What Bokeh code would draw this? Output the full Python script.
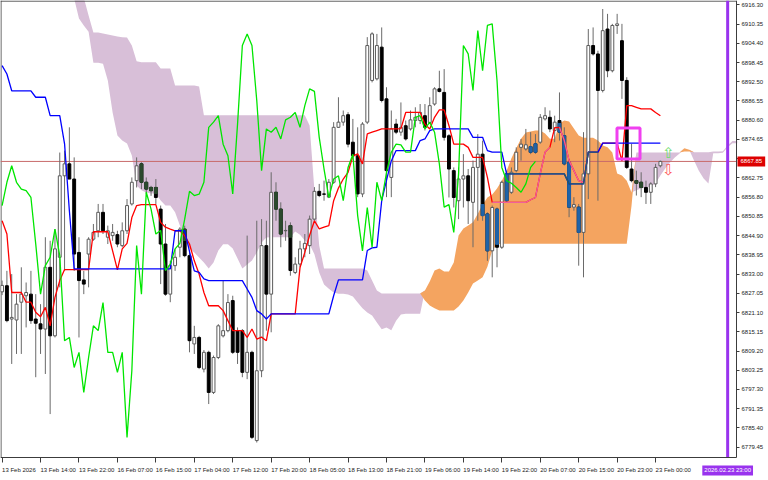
import numpy as np
from bokeh.plotting import figure
from bokeh.models import Range1d, FixedTicker, NumeralTickFormatter, Label
from bokeh.embed import file_html
from bokeh.resources import INLINE
from bokeh.core.properties import value

# ---------------- data (H1 bars, index 0 = first bar on screen) ----------------
OPEN = [6827.5, 6829.4, 6819.1, 6818.8, 6824.3, 6826.3, 6826.8, 6819.1, 6817.6, 6816.0,
        6835.1, 6813.9, 6838.2, 6863.4, 6867.1, 6862.4, 6839.7, 6831.2, 6839.2, 6843.8,
        6846.4, 6852.1, 6844.4, 6844.9, 6845.2, 6841.8, 6846.4, 6854.7, 6861.9, 6867.1,
        6861.4, 6859.8, 6859.8, 6853.1, 6842.3, 6826.8, 6835.6, 6841.3, 6846.9, 6838.7,
        6811.4, 6813.4, 6803.6, 6808.8, 6796.4, 6807.2, 6813.9, 6815.5, 6824.8, 6815.5,
        6815.5, 6802.6, 6808.8, 6781.5, 6803.1, 6841.8, 6826.8, 6858.3, 6853.1, 6846.4,
        6848.0, 6833.5, 6836.1, 6840.8, 6841.8, 6850.0, 6858.6, 6857.8, 6856.8, 6861.4,
        6878.4, 6880.0, 6882.3, 6873.8, 6869.6, 6857.8, 6880.0, 6892.9, 6893.4, 6903.2,
        6887.2, 6862.9, 6879.4, 6876.9, 6878.9, 6877.9, 6880.5, 6880.5, 6882.0, 6879.9,
        6885.6, 6890.3, 6889.2, 6875.8, 6865.0, 6855.7, 6862.4, 6863.4, 6855.2, 6866.0,
        6870.1, 6851.6, 6840.2, 6853.1, 6841.3, 6864.0, 6858.3, 6865.0, 6872.2, 6871.7,
        6872.4, 6873.3, 6873.8, 6881.0, 6881.5, 6877.4, 6880.5, 6875.8, 6867.6, 6853.7,
        6853.7, 6845.9, 6864.0, 6903.7, 6901.1, 6889.8, 6908.8, 6895.9, 6909.9, 6905.2,
        6892.9, 6865.5, 6861.9, 6861.4, 6859.8, 6858.3, 6860.9, 6866.5]
HIGH = [6831.0, 6834.0, 6833.0, 6826.8, 6835.1, 6830.4, 6834.0, 6826.8, 6823.7, 6844.4,
        6843.3, 6846.9, 6870.6, 6871.2, 6878.4, 6869.1, 6844.4, 6834.0, 6844.4, 6848.5,
        6854.7, 6854.7, 6848.0, 6848.5, 6846.4, 6849.0, 6856.2, 6862.9, 6869.1, 6867.6,
        6862.9, 6860.3, 6862.4, 6854.2, 6848.5, 6837.1, 6840.7, 6847.5, 6848.0, 6840.2,
        6817.0, 6813.9, 6809.5, 6809.3, 6807.8, 6817.5, 6830.9, 6826.8, 6826.3, 6816.5,
        6816.0, 6844.9, 6809.3, 6849.5, 6850.0, 6849.5, 6864.5, 6861.4, 6855.2, 6849.5,
        6849.0, 6838.2, 6843.3, 6845.4, 6851.1, 6859.9, 6860.9, 6861.9, 6862.4, 6880.0,
        6887.7, 6883.6, 6883.1, 6881.0, 6878.4, 6880.0, 6906.3, 6907.8, 6907.3, 6909.3,
        6890.8, 6883.6, 6881.0, 6886.1, 6880.5, 6883.6, 6884.6, 6885.6, 6885.6, 6887.7,
        6890.8, 6895.9, 6896.4, 6876.3, 6866.0, 6866.0, 6870.1, 6865.5, 6868.1, 6876.3,
        6874.3, 6852.1, 6854.2, 6853.6, 6861.9, 6865.0, 6866.0, 6872.2, 6874.8, 6877.9,
        6876.9, 6876.3, 6882.5, 6884.6, 6883.6, 6882.0, 6889.2, 6878.4, 6868.6, 6856.8,
        6854.7, 6876.9, 6908.8, 6909.3, 6902.1, 6915.0, 6913.5, 6910.4, 6913.5, 6910.4,
        6893.9, 6873.3, 6865.0, 6864.5, 6861.9, 6861.4, 6867.1, 6868.1]
LOW = [6826.5, 6818.1, 6805.2, 6808.3, 6808.3, 6816.5, 6817.6, 6801.1, 6808.3, 6802.1,
       6789.7, 6813.4, 6828.9, 6834.0, 6862.4, 6834.0, 6813.4, 6826.8, 6828.9, 6843.3,
       6844.4, 6845.4, 6842.3, 6843.3, 6841.3, 6841.3, 6845.4, 6854.2, 6859.8, 6859.3,
       6857.8, 6857.2, 6854.7, 6829.9, 6826.3, 6824.3, 6834.0, 6838.2, 6838.2, 6808.8,
       6808.3, 6803.6, 6802.6, 6792.8, 6795.9, 6806.7, 6813.4, 6815.0, 6808.3, 6805.2,
       6801.1, 6800.5, 6782.0, 6780.9, 6801.1, 6815.5, 6815.0, 6849.5, 6841.3, 6843.3,
       6832.5, 6833.0, 6835.1, 6838.2, 6839.2, 6849.5, 6856.8, 6855.7, 6856.5, 6860.9,
       6878.2, 6878.9, 6872.2, 6869.1, 6856.8, 6856.8, 6879.4, 6892.3, 6892.9, 6886.1,
       6856.8, 6856.8, 6876.3, 6875.8, 6874.3, 6877.4, 6878.4, 6879.4, 6877.4, 6879.4,
       6885.1, 6889.2, 6874.3, 6856.7, 6853.6, 6850.0, 6853.6, 6848.5, 6841.3, 6849.5,
       6849.5, 6837.1, 6832.0, 6835.1, 6840.8, 6855.2, 6857.8, 6864.5, 6868.1, 6871.2,
       6870.1, 6870.2, 6873.3, 6880.5, 6876.9, 6873.8, 6874.3, 6866.6, 6850.6, 6852.6,
       6835.6, 6832.0, 6856.2, 6900.6, 6855.7, 6889.2, 6893.9, 6895.4, 6907.3, 6887.2,
       6865.5, 6861.4, 6857.3, 6856.8, 6854.7, 6854.7, 6859.9, 6866.0]
CLOSE = [6829.5, 6818.6, 6819.6, 6823.7, 6826.8, 6827.3, 6818.6, 6817.8, 6816.0, 6835.1,
         6813.9, 6840.8, 6863.4, 6867.1, 6862.4, 6839.2, 6831.0, 6829.9, 6843.8, 6845.9,
         6852.1, 6846.4, 6846.4, 6845.9, 6842.3, 6846.4, 6854.2, 6861.4, 6866.5, 6861.4,
         6859.3, 6858.8, 6856.7, 6842.3, 6826.8, 6835.6, 6838.2, 6846.9, 6838.7, 6812.4,
         6813.4, 6804.1, 6808.8, 6796.4, 6807.2, 6817.0, 6815.5, 6824.2, 6808.8, 6808.8,
         6802.6, 6808.8, 6782.5, 6803.1, 6841.8, 6826.8, 6858.3, 6853.1, 6845.4, 6846.5,
         6834.1, 6836.1, 6840.8, 6842.5, 6850.0, 6858.6, 6857.3, 6857.7, 6861.4, 6878.4,
         6880.0, 6882.0, 6873.2, 6869.6, 6857.8, 6879.4, 6903.7, 6907.3, 6903.7, 6886.7,
         6865.0, 6877.9, 6876.9, 6878.4, 6874.8, 6880.7, 6881.5, 6883.0, 6878.4, 6885.1,
         6890.3, 6889.5, 6875.3, 6865.5, 6856.7, 6862.4, 6863.4, 6855.7, 6866.0, 6870.1,
         6851.1, 6840.2, 6853.6, 6841.3, 6861.4, 6855.7, 6864.5, 6870.7, 6873.2, 6873.0,
         6870.7, 6870.7, 6881.5, 6882.0, 6877.9, 6880.0, 6876.9, 6867.1, 6853.7, 6854.5,
         6845.9, 6864.0, 6903.7, 6901.1, 6889.8, 6908.3, 6895.9, 6909.9, 6910.4, 6892.9,
         6866.0, 6861.9, 6861.1, 6859.8, 6858.3, 6860.9, 6866.0, 6867.85]

TENKAN = [6849.5, 6845.4, 6827.3, 6827.3, 6827.3, 6824.3, 6824.3, 6821.2, 6819.8, 6822.7,
          6817.0, 6825.8, 6831.0, 6834.4, 6834.4, 6834.4, 6834.4, 6834.4, 6834.4, 6846.1,
          6846.1, 6846.1, 6846.1, 6840.2, 6834.3, 6840.8, 6842.5, 6850.5, 6854.2, 6854.5,
          6854.5, 6854.5, 6854.5, 6849.0, 6847.5, 6846.9, 6846.4, 6846.4, 6844.9, 6842.3,
          6837.1, 6833.0, 6827.3, 6823.2, 6823.2, 6823.2, 6821.7, 6818.6, 6815.5, 6815.5,
          6815.5, 6813.4, 6816.0, 6812.9, 6813.5, 6812.4, 6820.7, 6820.7, 6820.7, 6820.7,
          6820.7, 6820.7, 6835.0, 6839.7, 6845.0, 6849.5, 6847.0, 6847.5, 6848.0, 6855.7,
          6859.6, 6862.4, 6864.5, 6869.5, 6870.2, 6867.1, 6876.4, 6876.9, 6877.4, 6877.9,
          6877.9, 6877.9, 6877.9, 6878.0, 6883.0, 6883.0, 6883.0, 6883.0, 6879.4, 6877.9,
          6881.5, 6883.8, 6883.8, 6878.9, 6873.2, 6873.2, 6873.2, 6872.2, 6869.1, 6869.1,
          6869.1, 6862.9, 6855.2, 6855.2, 6855.2, 6855.2, 6855.2, 6855.2, 6855.2, 6855.2,
          6856.0, 6856.7, 6864.1, 6870.7, 6872.2, 6878.3, 6878.4, 6874.3, 6868.1, 6865.0,
          6861.9, 6861.3, 6870.7, 6870.7, 6870.7, 6873.5, 6873.5, 6873.5, 6873.5, 6868.0,
          6885.1, 6885.1, 6884.6, 6884.1, 6884.1, 6884.1, 6883.0, 6882.0]
KIJUN = [6897.5, 6894.9, 6889.7, 6889.7, 6889.7, 6889.7, 6889.7, 6887.7, 6887.7, 6887.7,
         6882.0, 6882.0, 6882.0, 6873.3, 6852.6, 6834.6, 6834.6, 6834.6, 6834.6, 6834.6,
         6834.6, 6834.6, 6834.6, 6834.6, 6834.6, 6834.6, 6834.6, 6834.6, 6834.6, 6834.6,
         6834.6, 6834.6, 6834.6, 6834.6, 6834.6, 6834.6, 6846.4, 6846.4, 6846.4, 6840.0,
         6834.0, 6833.5, 6831.5, 6831.0, 6831.0, 6831.0, 6831.0, 6831.0, 6831.0, 6831.0,
         6831.0, 6828.4, 6825.8, 6821.7, 6820.7, 6819.1, 6820.7, 6820.7, 6820.7, 6820.7,
         6820.7, 6820.7, 6820.7, 6820.7, 6820.7, 6820.7, 6820.7, 6820.7, 6820.7, 6826.3,
         6831.2, 6831.2, 6831.2, 6831.2, 6831.2, 6831.2, 6840.3, 6841.1, 6841.3, 6855.7,
         6862.0, 6868.0, 6871.2, 6871.2, 6871.2, 6871.2, 6871.2, 6874.3, 6874.8, 6877.4,
         6877.9, 6877.9, 6877.9, 6877.9, 6877.9, 6877.9, 6877.9, 6877.9, 6875.3, 6875.3,
         6875.3, 6871.2, 6870.7, 6870.7, 6870.7, 6864.0, 6864.0, 6864.0, 6864.0, 6864.0,
         6864.0, 6864.0, 6864.0, 6864.0, 6864.0, 6864.0, 6864.0, 6864.0, 6860.9, 6860.9,
         6860.9, 6860.9, 6870.7, 6870.7, 6870.7, 6873.5, 6873.5, 6873.5, 6873.5, 6873.5,
         6873.5, 6873.5, 6873.5, 6873.5, 6873.5, 6873.5, 6873.5, 6873.5]
CHIKOU_SHIFT = 26

# Senkou spans as drawn (already shifted forward), first visible bar = CLOUD_START
CLOUD_START = 15
SPAN_A = [6918.2, 6912.1, 6909.9, 6908.0, 6898.4, 6898.4, 6898.1, 6892.9, 6883.0, 6875.9,
          6874.3, 6873.4, 6869.7, 6860.4, 6858.9, 6858.2, 6857.9, 6857.9, 6855.8, 6854.2,
          6854.2, 6852.1, 6848.0, 6843.4, 6840.9, 6839.7, 6838.1, 6836.6, 6834.7, 6836.6,
          6840.3, 6842.2, 6842.2, 6840.9, 6837.8, 6834.7, 6836.0, 6837.2, 6839.7, 6842.8,
          6844.3, 6844.4, 6844.4, 6844.4, 6844.4, 6844.4, 6846.2, 6845.2, 6843.4, 6842.2,
          6839.1, 6833.5, 6829.8, 6828.5, 6827.3, 6826.9, 6826.9, 6826.7, 6826.1, 6824.2,
          6822.4, 6821.1, 6820.2, 6818.0, 6815.9, 6816.5, 6815.6, 6818.6, 6820.5, 6820.7,
          6820.7, 6820.7, 6820.7, 6827.9, 6830.7, 6834.1, 6834.7, 6833.8, 6833.8, 6836.6,
          6844.9, 6847.1, 6848.0, 6849.0, 6851.7, 6854.5, 6856.7, 6857.6, 6859.5, 6861.9,
          6865.0, 6868.8, 6871.9, 6874.9, 6876.8, 6877.1, 6877.4, 6877.4, 6876.5, 6874.9,
          6874.9, 6879.6, 6880.5, 6880.2, 6878.0, 6875.9, 6875.2, 6875.2, 6875.2, 6874.3,
          6872.8, 6872.2, 6870.6, 6864.1, 6863.5, 6861.9, 6858.2, 6858.9, 6859.5, 6859.8,
          6860.1, 6861.0, 6863.5, 6865.7, 6867.5, 6869.1, 6870.3, 6871.9, 6871.5, 6868.1,
          6865.0, 6862.6, 6861.0, 6870.4, 6870.4, 6870.5, 6872.2, 6873.5, 6873.5]
SPAN_B = [6925.0, 6922.0, 6918.5, 6913.0, 6907.7, 6907.7, 6907.4, 6907.1, 6906.8, 6906.5,
          6906.3, 6906.2, 6903.7, 6898.8, 6898.5, 6898.5, 6898.5, 6898.5, 6896.6, 6896.6,
          6896.6, 6891.3, 6891.3, 6891.3, 6891.3, 6891.3, 6891.0, 6882.1, 6882.1, 6882.1,
          6882.1, 6882.1, 6882.1, 6882.1, 6882.1, 6882.1, 6882.1, 6882.1, 6882.1, 6882.1,
          6882.1, 6882.1, 6882.1, 6882.1, 6882.1, 6882.1, 6882.1, 6882.1, 6882.1, 6879.0,
          6858.9, 6841.8, 6834.7, 6834.7, 6834.7, 6834.7, 6834.7, 6834.7, 6834.7, 6834.7,
          6834.7, 6834.1, 6831.0, 6827.9, 6827.0, 6827.0, 6827.0, 6827.0, 6827.0, 6827.0,
          6827.0, 6827.0, 6827.0, 6824.8, 6823.3, 6822.4, 6821.7, 6821.7, 6821.7, 6821.7,
          6823.0, 6824.8, 6827.3, 6830.1, 6831.0, 6832.0, 6835.3, 6840.3, 6842.2, 6842.4,
          6842.4, 6842.4, 6842.4, 6842.4, 6842.4, 6842.4, 6842.4, 6842.4, 6842.4, 6842.4,
          6842.4, 6842.4, 6842.4, 6842.4, 6842.4, 6842.4, 6842.4, 6842.4, 6842.4, 6842.4,
          6842.4, 6842.4, 6842.4, 6842.4, 6842.4, 6842.4, 6854.2, 6870.6, 6870.6, 6870.6,
          6870.6, 6870.6, 6870.6, 6870.6, 6870.6, 6870.6, 6870.6, 6870.9, 6870.9, 6870.7,
          6870.7, 6870.7, 6870.7, 6870.9, 6870.9, 6871.0, 6872.8, 6874.2, 6874.2]

X_TICK_BARS = [0, 8, 16, 24, 32, 40, 48, 56, 64, 72, 80, 88, 96, 104, 112, 120, 128, 136]
X_TICK_LABELS = ["13 Feb 2026", "13 Feb 14:00", "13 Feb 22:00", "16 Feb 07:00", "16 Feb 15:00",
                 "17 Feb 04:00", "17 Feb 12:00", "17 Feb 20:00", "18 Feb 05:00", "18 Feb 13:00",
                 "18 Feb 21:00", "19 Feb 06:00", "19 Feb 14:00", "19 Feb 22:00", "20 Feb 07:00",
                 "20 Feb 15:00", "20 Feb 23:00", "23 Feb 00:00"]
Y_TICKS = [6916.30, 6910.35, 6904.40, 6898.45, 6892.50, 6886.55, 6880.60, 6874.65, 6868.70,
           6862.75, 6856.80, 6850.85, 6844.90, 6838.95, 6833.00, 6827.05, 6821.10, 6815.15,
           6809.20, 6803.25, 6797.30, 6791.35, 6785.40, 6779.45]

LAST_PRICE = 6867.85
VLINE_BAR = 151
VLINE_TEXT = "2026.02.23 23:00"
BOX_BARS = (127.97, 132.76)
BOX_PRICES = (6868.6, 6878.2)
ARROW_BAR = 138.7
ARROW_UP_PRICE = 6870.6
ARROW_DOWN_PRICE = 6865.3

# view: whole canvas; the chart window ends at the price scale / time scale
X_VIEW = (-0.333, 159.5)
Y_VIEW = (6769.15, 6917.63)
X_CHART_END = 152.84      # where the price scale sits
Y_CHART_BOTTOM = 6776.27  # where the time scale sits
X_LEFT_EDGE = -0.23
Y_TOP_EDGE = 6917.45

# ---------------- figure ----------------
FONT = "Liberation Sans"
BORDER = "#3c3c3c"
p = figure(width=768, height=480, output_backend="svg", toolbar_location=None,
           x_range=Range1d(*X_VIEW), y_range=Range1d(*Y_VIEW),
           y_axis_location="right", min_border=0, min_border_left=0, min_border_right=0,
           min_border_top=0, min_border_bottom=0)
p.background_fill_color = "white"
p.border_fill_color = "white"
p.outline_line_color = None
p.xgrid.visible = False
p.ygrid.visible = False

o = np.array(OPEN); h = np.array(HIGH); l = np.array(LOW); c = np.array(CLOSE)
x = np.arange(len(o))
tk = np.array(TENKAN); kj = np.array(KIJUN)

# cloud (behind everything)
xa = np.arange(CLOUD_START, CLOUD_START + len(SPAN_A))
sa = np.array(SPAN_A); sb = np.array(SPAN_B)
top = np.maximum(sa, sb)
p.varea(x=xa, y1=sa, y2=top, fill_color="#D8BFD8")
p.varea(x=xa, y1=sb, y2=top, fill_color="#F4A460")

# cloud bounds per bar (terminal shows bars/lines inverted inside the cloud)
lo_b = np.full(len(x), np.nan); hi_b = np.full(len(x), np.nan); orange_b = np.zeros(len(x), bool)
n_in = min(len(x), CLOUD_START + len(sa)) - CLOUD_START
lo_b[CLOUD_START:CLOUD_START + n_in] = np.minimum(sa, sb)[:n_in]
hi_b[CLOUD_START:CLOUD_START + n_in] = np.maximum(sa, sb)[:n_in]
orange_b[CLOUD_START:CLOUD_START + n_in] = (sa > sb)[:n_in]

# chart window border (left and top) and current price line
p.segment(x0=[X_LEFT_EDGE], y0=[Y_CHART_BOTTOM], x1=[X_LEFT_EDGE], y1=[Y_VIEW[1]], line_color=BORDER, line_width=1)
p.segment(x0=[X_VIEW[0]], y0=[Y_TOP_EDGE], x1=[X_CHART_END], y1=[Y_TOP_EDGE], line_color=BORDER, line_width=1)
p.segment(x0=[X_VIEW[0]], y0=[LAST_PRICE], x1=[X_CHART_END], y1=[LAST_PRICE], line_color="#c86a6a", line_width=1)

# candles
up = c >= o
dn = ~up
p.segment(x0=x, y0=h, x1=x, y1=l, line_color="#6a6a6a", line_width=1)
p.vbar(x=x[up], width=0.6, top=c[up], bottom=o[up], fill_color="white", line_color="#5a5a5a", line_width=1)
p.vbar(x=x[dn], width=0.6, top=o[dn], bottom=c[dn], fill_color="black", line_color="black", line_width=1)
with np.errstate(invalid="ignore"):
    seg_top = np.minimum(o, hi_b); seg_bot = np.maximum(c, lo_b)
    tint = dn & ~np.isnan(lo_b) & (seg_top > seg_bot)
tint_or = tint & orange_b
tint_pu = tint & ~orange_b
p.vbar(x=x[tint_or], width=0.6, top=seg_top[tint_or], bottom=seg_bot[tint_or],
       fill_color="#1f63a8", line_color="#1f63a8", line_width=1)
p.vbar(x=x[tint_pu], width=0.6, top=seg_top[tint_pu], bottom=seg_bot[tint_pu],
       fill_color="#2c4a2e", line_color="#2c4a2e", line_width=1)

# Ichimoku lines
with np.errstate(invalid="ignore"):
    tk_in = np.where(orange_b & (tk >= lo_b) & (tk <= hi_b), tk, np.nan)
    kj_in = np.where(orange_b & (kj >= lo_b) & (kj <= hi_b), kj, np.nan)
p.line(x, tk, line_color="#ff0000", line_width=1.3)
p.line(x, tk_in, line_color="#f0609a", line_width=1.3)
p.line(x, kj, line_color="#0000ff", line_width=1.3)
p.line(x, kj_in, line_color="#27605f", line_width=1.3)
p.line(x[:-CHIKOU_SHIFT], c[CHIKOU_SHIFT:], line_color="#00e600", line_width=1.3)

# rectangle object
p.quad(left=[BOX_BARS[0]], right=[BOX_BARS[1]], bottom=[BOX_PRICES[0]], top=[BOX_PRICES[1]],
       fill_color=None, line_color="#f040f0", line_width=3)

# arrows
p.text(x=[ARROW_BAR], y=[ARROW_UP_PRICE], text=["\u21e7"], text_font=value("DejaVu Sans"),
       text_font_size="15px", text_align="center", text_baseline="middle", text_color="#6ede6e")
p.text(x=[ARROW_BAR], y=[ARROW_DOWN_PRICE], text=["\u21e9"], text_font=value("DejaVu Sans"),
       text_font_size="15px", text_align="center", text_baseline="middle", text_color="#ff5a5a")

# vertical line object
p.segment(x0=[VLINE_BAR], y0=[Y_CHART_BOTTOM], x1=[VLINE_BAR], y1=[Y_VIEW[1]],
          line_color="#9933ee", line_width=3)

# axes, pinned at the edges of the chart window
p.yaxis.fixed_location = X_CHART_END
p.yaxis.bounds = (Y_CHART_BOTTOM, Y_VIEW[1])
p.xaxis.fixed_location = Y_CHART_BOTTOM
p.xaxis.bounds = (X_VIEW[0], X_CHART_END)
p.yaxis.ticker = FixedTicker(ticks=Y_TICKS)
p.yaxis.formatter = NumeralTickFormatter(format="0.00")
p.xaxis.ticker = FixedTicker(ticks=X_TICK_BARS)
p.xaxis.major_label_overrides = {b: s for b, s in zip(X_TICK_BARS, X_TICK_LABELS)}
p.xaxis.major_label_orientation = -0.0001
for ax in (p.xaxis, p.yaxis):
    ax.major_label_text_font = FONT
    ax.major_label_text_font_size = "6px"
    ax.major_label_text_color = "#222222"
    ax.axis_line_color = BORDER
    ax.major_tick_line_color = BORDER
    ax.minor_tick_line_color = None
    ax.major_tick_in = 0
p.yaxis.major_tick_out = 3
p.yaxis.major_label_standoff = 2
p.xaxis.major_tick_out = 5
p.xaxis.major_label_standoff = 8

# price and time tags
p.add_layout(Label(x=X_CHART_END, y=LAST_PRICE, x_offset=1, text="6867.85",
                   text_align="left", text_baseline="middle", text_font=FONT, text_font_size="6px",
                   text_color="white", background_fill_color="#dd0000", padding=3))
p.add_layout(Label(x=VLINE_BAR, y=Y_CHART_BOTTOM, y_offset=-13, text=VLINE_TEXT,
                   text_align="center", text_baseline="middle", text_font=FONT, text_font_size="6px",
                   text_color="white", background_fill_color="#9933ee", padding=2))

open("out.html", "w").write(file_html(p, INLINE))
